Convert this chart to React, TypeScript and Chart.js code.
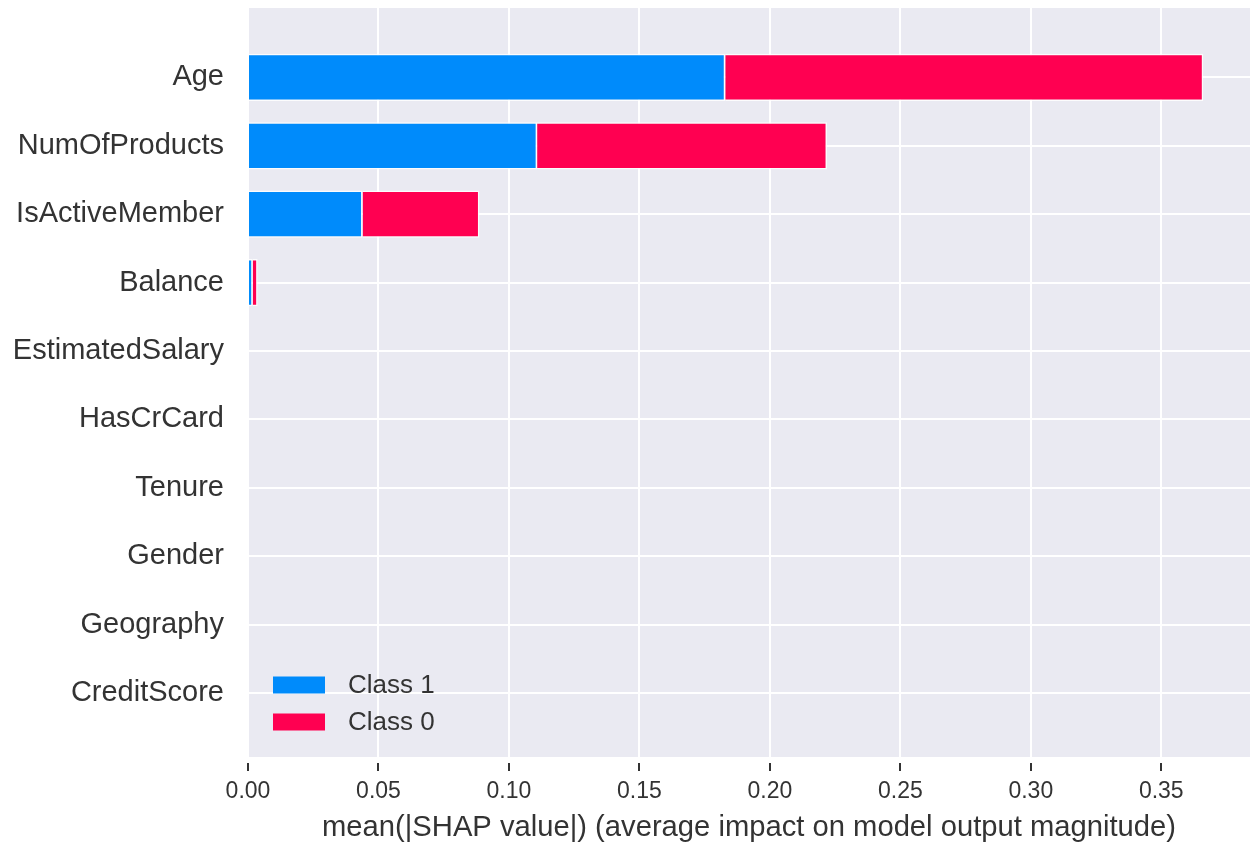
import React, { useEffect, useRef } from "react";
import { Chart, registerables } from "chart.js";

Chart.register(...registerables);

// Features, ordered from most to least important (top to bottom).
const FEATURES = [
  "Age",
  "NumOfProducts",
  "IsActiveMember",
  "Balance",
  "EstimatedSalary",
  "HasCrCard",
  "Tenure",
  "Gender",
  "Geography",
  "CreditScore",
];

// mean(|SHAP value|) per feature for each class.
const CLASS_1 = [0.1829, 0.1108, 0.0439, 0.0018, 0, 0, 0, 0, 0, 0];
const CLASS_0 = [0.1832, 0.1111, 0.0448, 0.0019, 0, 0, 0, 0, 0, 0];

const X_TICKS = [0, 0.05, 0.1, 0.15, 0.2, 0.25, 0.3, 0.35];

const FONT = "'Liberation Sans', Arial, sans-serif";
const TEXT = "#333333";
const BLUE = "#008BFB";
const RED = "#FF0051";

// Short dark tick marks hanging slightly below the plot, plus the legend inside it.
const decorations = {
  id: "decorations",
  afterDraw(chart: any) {
    const { ctx, chartArea, scales } = chart;
    ctx.save();
    ctx.strokeStyle = TEXT;
    ctx.lineWidth = 2;
    scales.x.ticks.forEach((t: any) => {
      const px = Math.round(scales.x.getPixelForValue(t.value));
      ctx.beginPath();
      ctx.moveTo(px, chartArea.bottom + 6);
      ctx.lineTo(px, chartArea.bottom + 14);
      ctx.stroke();
    });

    // legend in the lower-left corner of the plot
    const boxW = 52;
    const boxH = 17;
    const left = chartArea.left + 25;
    const rowGap = 37;
    const firstCenter = chartArea.bottom - 72;
    ctx.font = `26px ${FONT}`;
    ctx.textBaseline = "middle";
    ctx.textAlign = "left";
    chart.data.datasets.forEach((ds: any, i: number) => {
      const cy = firstCenter + i * rowGap;
      ctx.fillStyle = ds.backgroundColor;
      ctx.fillRect(left, cy - boxH / 2, boxW, boxH);
      ctx.fillStyle = TEXT;
      ctx.fillText(ds.label, left + boxW + 23, cy + 1);
    });
    ctx.restore();
  },
};

export default function App() {
  const canvasRef = useRef<HTMLCanvasElement | null>(null);

  useEffect(() => {
    if (!canvasRef.current) return;
    const toPoints = (vals: number[]) => vals.map((v, i) => ({ x: v, y: i }));
    const chart = new Chart(canvasRef.current, {
      type: "bar",
      data: {
        datasets: [
          {
            label: "Class 1",
            data: toPoints(CLASS_1),
            backgroundColor: BLUE,
            borderColor: "rgba(255,255,255,0.85)",
            borderWidth: 1.5,
            barPercentage: 0.69,
            categoryPercentage: 1,
          },
          {
            label: "Class 0",
            data: toPoints(CLASS_0),
            backgroundColor: RED,
            borderColor: "rgba(255,255,255,0.85)",
            borderWidth: 1.5,
            barPercentage: 0.69,
            categoryPercentage: 1,
          },
        ],
      },
      options: {
        indexAxis: "y",
        responsive: false,
        animation: false,
        devicePixelRatio: 1,
        layout: { padding: { top: 8, right: 8, left: 0, bottom: 0 } },
        plugins: {
          legend: { display: false },
          tooltip: { enabled: false },
        },
        scales: {
          x: {
            type: "linear",
            stacked: true,
            offset: false,
            min: 0,
            max: 0.384,
            afterFit: (s: any) => {
              s.height = 89;
              s.paddingLeft = 0;
              s.paddingRight = 0;
            },
            afterBuildTicks: (s: any) => {
              s.ticks = X_TICKS.map((v) => ({ value: v }));
            },
            ticks: {
              includeBounds: false,
              callback: (v: any) => Number(v).toFixed(2),
              font: { family: FONT, size: 23 },
              color: TEXT,
              padding: 21,
              maxRotation: 0,
            },
            grid: { color: "#ffffff", lineWidth: 2, drawTicks: false, offset: false },
            border: { display: false },
            title: {
              display: true,
              text: "mean(|SHAP value|) (average impact on model output magnitude)",
              font: { family: FONT, size: 29.2 },
              color: TEXT,
              padding: { top: 0, bottom: 1 },
            },
          },
          y: {
            type: "linear",
            stacked: true,
            reverse: true,
            offset: false,
            min: -1.015,
            max: 9.936,
            afterFit: (s: any) => {
              s.width = 248;
              s.paddingTop = 0;
              s.paddingBottom = 0;
            },
            afterBuildTicks: (s: any) => {
              s.ticks = FEATURES.map((_, i) => ({ value: i }));
            },
            ticks: {
              callback: (v: any) => FEATURES[Number(v)] ?? "",
              font: { family: FONT, size: 29 },
              color: TEXT,
              padding: 24,
            },
            grid: { color: "#ffffff", lineWidth: 2, drawTicks: false, offset: false },
            border: { display: false },
          },
        },
      },
      plugins: [
        {
          id: "plotBackground",
          beforeDraw(c: any) {
            const { ctx, chartArea } = c;
            ctx.save();
            ctx.fillStyle = "#EAEAF2";
            ctx.fillRect(
              chartArea.left,
              chartArea.top,
              chartArea.right - chartArea.left,
              chartArea.bottom - chartArea.top
            );
            ctx.restore();
          },
        },
        decorations,
      ],
    } as any);
    return () => chart.destroy();
  }, []);

  return (
    <div
      style={{
        position: "absolute",
        top: 0,
        left: 0,
        width: 1258,
        height: 846,
        background: "#ffffff",
      }}
    >
      <canvas ref={canvasRef} width={1258} height={846} />
    </div>
  );
}
